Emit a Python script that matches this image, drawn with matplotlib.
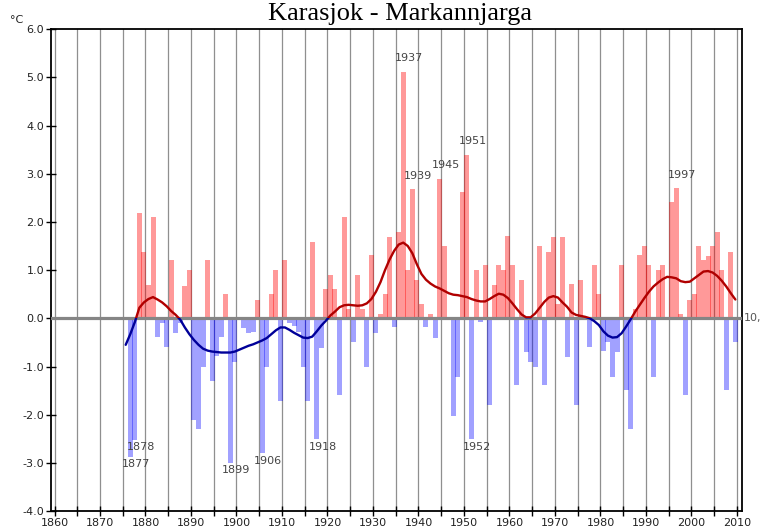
import numpy as np
import matplotlib
matplotlib.use('Agg')
import matplotlib.pyplot as plt
from matplotlib.patches import Rectangle
from matplotlib.ticker import MultipleLocator, FormatStrFormatter

# ---------------- data ----------------
years = list(range(1877, 2011))
values = [
    -2.87, -2.52, 2.19, 1.38, 0.69, 2.10, -0.38, -0.10, -0.60, 1.21,   # 1877-1886
    -0.30, -0.10, 0.68, 1.00, -2.10, -2.30, -1.00, 1.21, -1.31, -0.78,  # 1887-1896
    -0.38, 0.50, -3.00, -0.90, 0.00, -0.20, -0.30, -0.28, 0.39, -2.80,  # 1897-1906
    -1.00, 0.50, 1.00, -1.71, 1.21, -0.10, -0.17, -0.28, -1.00, -1.71,  # 1907-1916
    1.59, -2.51, -0.62, 0.61, 0.89, 0.61, -1.60, 2.10, 0.19, -0.50,     # 1917-1926
    0.90, 0.19, -1.00, 1.31, -0.30, 0.09, 0.50, 1.69, -0.19, 1.80,      # 1927-1936
    5.12, 1.00, 2.68, 0.80, 0.29, -0.19, 0.08, -0.40, 2.90, 1.49,       # 1937-1946
    0.00, -2.02, -1.21, 2.61, 3.39, -2.51, 1.00, -0.08, 1.10, -1.80,    # 1947-1956
    0.69, 1.10, 1.00, 1.71, 1.10, -1.38, 0.80, -0.69, -0.90, -1.00,     # 1957-1966
    1.49, -1.38, 1.38, 1.69, 0.30, 1.69, -0.80, 0.72, -1.80, 0.80,      # 1967-1976
    0.00, -0.60, 1.10, 0.50, -0.68, -0.50, -1.21, -0.69, 1.10, -1.49,   # 1977-1986
    -2.30, 0.19, 1.31, 1.49, 1.10, -1.21, 1.00, 1.10, 0.00, 2.42,       # 1987-1996
    2.70, 0.09, -1.60, 0.39, 0.50, 1.49, 1.21, 1.30, 1.49, 1.80,        # 1997-2006
    1.00, -1.49, 1.38, -0.50,                                           # 2007-2010
]

smooth_years = list(range(1876, 2011))
smooth = [
    -0.55, -0.33, -0.08, 0.22, 0.33, 0.40, 0.44, 0.39, 0.33, 0.25,      # 1876-1885
    0.15, 0.07, -0.03, -0.19, -0.33, -0.45, -0.55, -0.63, -0.67, -0.69, # 1886-1895
    -0.70, -0.71, -0.71, -0.71, -0.69, -0.65, -0.61, -0.57, -0.54, -0.50,  # 1896-1905
    -0.46, -0.41, -0.33, -0.25, -0.19, -0.19, -0.24, -0.30, -0.35, -0.40,  # 1906-1915
    -0.41, -0.38, -0.27, -0.15, -0.05, 0.06, 0.14, 0.23, 0.27, 0.28,    # 1916-1925
    0.27, 0.26, 0.27, 0.31, 0.40, 0.55, 0.75, 1.00, 1.22, 1.40,         # 1926-1935
    1.53, 1.57, 1.50, 1.35, 1.12, 0.92, 0.80, 0.72, 0.66, 0.62,         # 1936-1945
    0.57, 0.52, 0.49, 0.48, 0.46, 0.44, 0.40, 0.37, 0.35, 0.35,         # 1946-1955
    0.40, 0.46, 0.51, 0.49, 0.42, 0.31, 0.19, 0.08, 0.02, 0.02,         # 1956-1965
    0.10, 0.22, 0.34, 0.43, 0.46, 0.43, 0.33, 0.24, 0.12, 0.07,         # 1966-1975
    0.05, 0.03, 0.00, -0.06, -0.14, -0.27, -0.36, -0.40, -0.39, -0.31,  # 1976-1985
    -0.17, -0.02, 0.14, 0.28, 0.42, 0.55, 0.66, 0.74, 0.81, 0.86,       # 1986-1995
    0.85, 0.83, 0.77, 0.75, 0.76, 0.83, 0.90, 0.97, 0.98, 0.95,         # 1996-2005
    0.88, 0.78, 0.66, 0.52, 0.39,                                       # 2006-2010
]

labelled_years = [1877, 1878, 1899, 1906, 1918, 1937, 1939, 1945, 1951, 1952, 1997]
ytick_values = [-4, -3, -2, -1, 0, 1, 2, 3, 4, 5, 6]
title = "Karasjok - Markannjarga"

# ---------------- figure ----------------
W, H = 763, 531
fig = plt.figure(figsize=(W / 100, H / 100), dpi=100)
ax = fig.add_axes([51 / W, 1 - 511.1 / H, (741.5 - 51) / W, (511.1 - 29.1) / H])

off = -0.35
bx = np.array(years) + off
vals = np.array(values)
cols = [(1, 0, 0, 0.4) if v >= 0 else (0, 0, 1, 0.37) for v in vals]
ax.bar(bx, vals, width=1.1, color=cols, linewidth=0, zorder=2)

ax.axhline(0, color='#858585', lw=2.3, zorder=3)

sx = np.array(smooth_years) + off
lr, = ax.plot(sx, smooth, color='#B00000', lw=1.7, zorder=4, solid_capstyle='round')
lb, = ax.plot(sx, smooth, color='#000099', lw=1.7, zorder=4, solid_capstyle='round')
lr.set_clip_path(Rectangle((1850, 0), 200, 20, transform=ax.transData))
lb.set_clip_path(Rectangle((1850, -20), 200, 20, transform=ax.transData))

for y, v in zip(years, values):
    if y in labelled_years:
        dy = 9.7 if v > 0 else -5.4
        ax.annotate(str(y), (y + off, v), xytext=(4.3, dy), textcoords='offset points',
                    ha='center', va='center', fontsize=8, color='#444444', zorder=5)

ax.set_xlim(1859.23, 2011.0)
ax.set_ylim(-4, 6)
ax.xaxis.set_major_locator(MultipleLocator(10))
ax.xaxis.set_minor_locator(MultipleLocator(5))
ax.set_yticks(ytick_values)
ax.yaxis.set_major_formatter(FormatStrFormatter('%.1f'))
ax.grid(True, axis='x', which='both', color='#8f8f8f', lw=0.9, zorder=0)
ax.set_axisbelow(True)
ax.tick_params(axis='both', which='both', direction='inout', length=7, width=1,
               color='black', labelcolor='#222222', labelsize=8)
ax.tick_params(axis='x', pad=1.5)
ax.tick_params(axis='y', pad=1.5)
for s in ax.spines.values():
    s.set_color('black')
    s.set_linewidth(1.3)

fig.text(400 / W, 1 - 20 / H, title, family='Liberation Serif', fontsize=19,
         ha='center', va='baseline')
fig.text(10 / W, 1 - 23 / H, '°C', fontsize=8, va='baseline', color='#222222')
fig.text(744 / W, 1 - 318.3 / H, '10,', fontsize=8, va='center', color='#555555')

fig.savefig('out.png', dpi=100)
